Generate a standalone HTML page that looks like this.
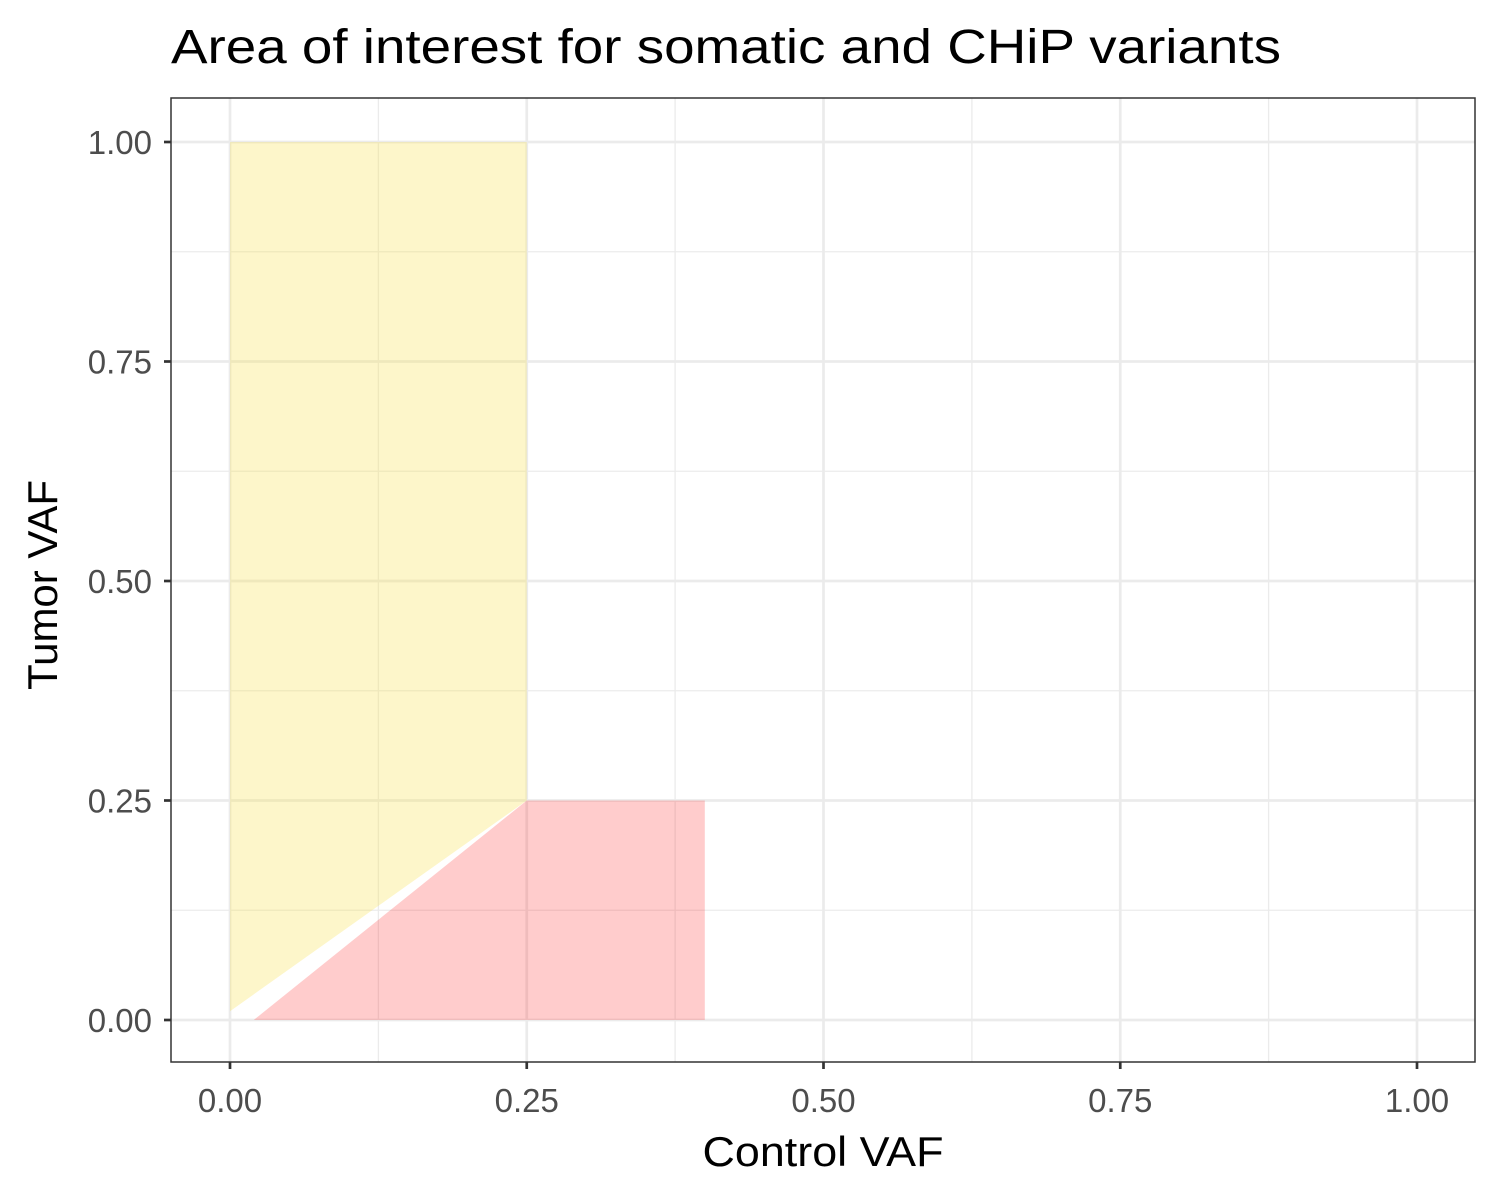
<!DOCTYPE html>
<html><head><meta charset="utf-8"><style>body{margin:0;background:#fff}svg{display:block}text{font-family:"Liberation Sans",sans-serif}</style></head>
<body>
<svg id="chart" width="1500" height="1200" xmlns="http://www.w3.org/2000/svg">
<text x="171" y="63" font-size="48" fill="#000" textLength="1110" lengthAdjust="spacingAndGlyphs">Area of interest for somatic and CHiP variants</text>
<rect x="171" y="98" width="1304" height="964" fill="#fff"/>
<g id="grid"></g>
<g id="areas"></g>
<rect x="171" y="98" width="1304" height="964" fill="none" stroke="#333" stroke-width="1.5"/>
<g id="axes"></g>
<text x="823" y="1166" font-size="42" text-anchor="middle" textLength="241" lengthAdjust="spacingAndGlyphs">Control VAF</text>
<text transform="translate(57,585) rotate(-90)" font-size="42" text-anchor="middle" textLength="210" lengthAdjust="spacingAndGlyphs">Tumor VAF</text>
</svg>
<script>
const ticks=[0,0.25,0.5,0.75,1];
const tickLabels=["0.00","0.25","0.50","0.75","1.00"];
const minorTicks=[0.125,0.375,0.625,0.875];
const somaticX=[0,0,0.25,0.25];
const somaticY=[0.01,1,1,0.25];
const chipX=[0.02,0.25,0.4,0.4];
const chipY=[0,0.25,0.25,0];
const sx=v=>230+v*1187, sy=v=>1020-v*878;
const NS="http://www.w3.org/2000/svg";
function mk(tag,attrs,parent){const e=document.createElementNS(NS,tag);for(const k in attrs)e.setAttribute(k,attrs[k]);parent.appendChild(e);return e;}
const grid=document.getElementById('grid'),areas=document.getElementById('areas'),axes=document.getElementById('axes');
minorTicks.forEach(t=>{
 let a=mk('line',{x1:sx(t),x2:sx(t),y1:98,y2:1062,stroke:'#ebebeb','stroke-width':1.3},grid);
 
 let b=mk('line',{x1:171,x2:1475,y1:sy(t),y2:sy(t),stroke:'#ebebeb','stroke-width':1.3},grid);
 
});
ticks.forEach((t,i)=>{
 let a=mk('line',{x1:sx(t),x2:sx(t),y1:98,y2:1062,stroke:'#ebebeb','stroke-width':2.7},grid);
 
 let b=mk('line',{x1:171,x2:1475,y1:sy(t),y2:sy(t),stroke:'#ebebeb','stroke-width':2.7},grid);
 
 let tx=mk('line',{x1:sx(t),x2:sx(t),y1:1062,y2:1069,stroke:'#333','stroke-width':2.7},axes);
 
 let ty=mk('line',{x1:164,x2:171,y1:sy(t),y2:sy(t),stroke:'#333','stroke-width':2.7},axes);
 
 let lx=mk('text',{x:sx(t),y:1112,'font-size':33,fill:'#4d4d4d','text-anchor':'middle'},axes);lx.textContent=tickLabels[i];
 
 let ly=mk('text',{x:152,y:sy(t)+12,'font-size':33,fill:'#4d4d4d','text-anchor':'end'},axes);ly.textContent=tickLabels[i];
 
});
const pts=(X,Y)=>X.map((x,i)=>sx(x)+','+sy(Y[i])).join(' ');
let p1=mk('polygon',{points:pts(somaticX,somaticY),fill:'#f8e050','fill-opacity':0.3},areas);

let p2=mk('polygon',{points:pts(chipX,chipY),fill:'#ff0000','fill-opacity':0.2},areas);

</script>
</body></html>
